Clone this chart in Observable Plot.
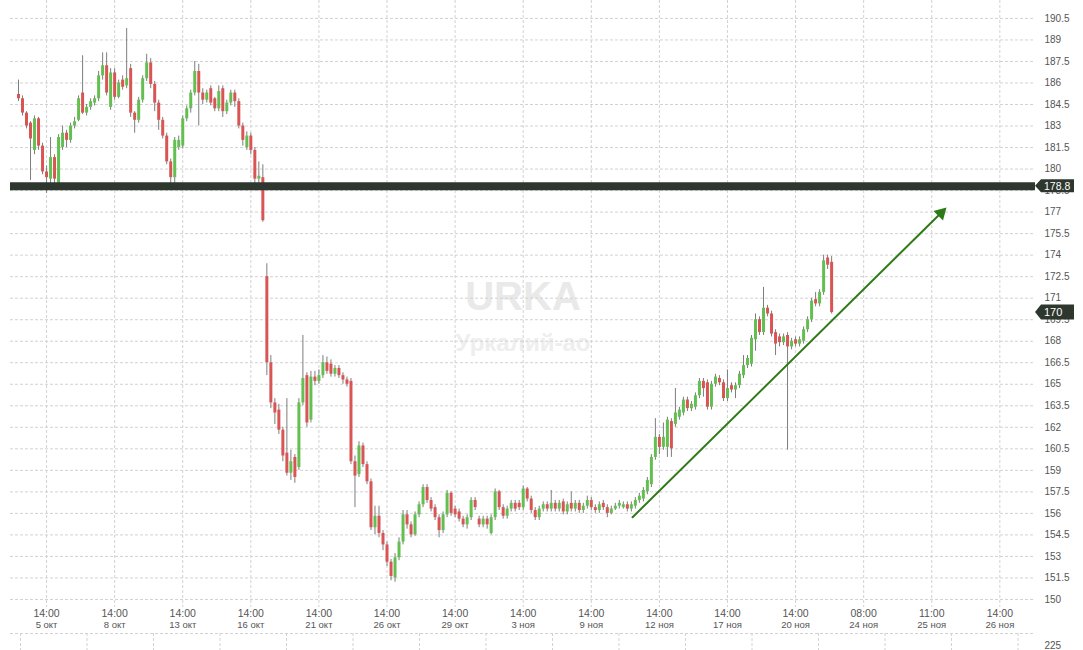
<!DOCTYPE html>
<html>
<head>
<meta charset="utf-8">
<script src="https://cdn.jsdelivr.net/npm/d3@7"></script>
<script src="https://cdn.jsdelivr.net/npm/@observablehq/plot@0.6"></script>
<style>
  html, body { margin: 0; padding: 0; background: #fff; }
  #wrap { position: relative; width: 1083px; height: 650px; overflow: hidden; }
</style>
</head>
<body>
<div id="wrap"></div>
<script>
// ---- Data (hourly-ish candles) ----
const opens = [
  185.2,184.9,183.9,183.2,181.3,183.5,181.6,179.8,179.3,180.8,
  179.0,181.5,182.5,182.0,183.0,183.4,185.3,183.9,184.3,184.6,
  184.9,186.5,187.2,184.3,186.7,185.0,186.2,185.8,187.0,183.9,
  183.4,184.8,186.3,187.4,185.9,184.6,183.4,182.3,180.5,179.4,
  181.5,181.6,183.5,184.2,185.3,186.8,185.3,184.8,185.6,184.9,
  184.2,185.6,184.0,184.6,185.3,184.7,183.0,181.5,182.3,181.3,
  179.3,179.4,172.5,166.5,163.7,163.2,161.8,160.2,158.8,159.9,
  159.2,163.7,165.6,162.5,165.5,165.2,165.6,166.5,166.4,165.7,
  166.1,165.6,165.3,165.2,159.6,158.7,160.7,159.4,158.2,155.0,
  155.8,154.6,153.8,152.6,151.5,152.9,154.0,155.9,155.2,154.5,
  155.9,156.6,157.8,156.9,156.4,155.7,154.8,155.9,157.4,156.3,
  156.1,155.6,155.2,155.7,156.9,155.6,155.2,155.6,154.6,155.7,
  157.5,156.4,155.8,156.3,156.7,156.7,156.4,157.7,157.0,156.2,
  155.7,156.3,156.6,156.3,156.7,156.3,156.8,156.1,156.7,156.3,
  156.7,156.2,156.5,156.9,156.4,156.2,156.7,156.4,156.0,156.3,
  156.5,156.4,156.6,156.3,156.5,156.9,157.0,157.5,158.0,159.9,
  161.3,160.6,160.6,162.4,162.2,162.7,163.0,163.9,163.3,163.4,
  164.2,165.2,165.1,163.4,165.0,165.4,165.1,164.0,164.9,164.6,
  164.9,165.6,166.3,166.4,168.1,169.5,168.6,170.3,169.9,168.6,
  168.3,167.9,168.4,167.6,168.1,167.8,168.0,168.8,169.5,170.9,
  170.6,171.4,173.8,173.5
];
const highs = [
  186.2,185.1,184.0,183.3,183.7,183.6,181.8,180.2,182.2,181.0,
  182.4,183.0,182.7,183.2,183.6,185.1,187.9,184.5,184.9,185.1,
  186.8,188.1,188.1,187.0,187.0,186.2,186.5,189.8,187.3,184.0,
  185.0,186.5,188.0,187.7,186.1,184.8,183.6,182.5,180.7,182.2,
  182.3,183.7,184.4,185.5,187.5,187.3,185.6,185.5,185.8,185.0,
  185.8,185.8,184.8,185.5,185.5,184.9,183.2,182.6,182.5,181.5,
  180.5,180.3,173.4,167.0,164.0,163.6,162.0,164.0,160.4,160.1,
  164.0,168.4,165.8,165.9,165.9,166.0,167.0,166.9,166.7,166.3,
  166.3,165.8,165.5,165.4,160.0,161.0,160.9,159.6,158.4,156.5,
  156.5,154.8,154.0,152.8,153.2,154.3,156.2,156.2,155.4,156.1,
  156.8,158.0,158.0,157.1,156.6,155.9,156.1,157.6,157.5,156.5,
  156.3,155.8,155.9,157.1,157.1,155.8,155.8,155.8,155.9,157.7,
  157.6,156.6,156.5,156.9,156.9,156.9,157.9,157.8,157.2,156.4,
  156.5,156.8,156.8,157.6,156.9,156.9,157.0,156.8,157.5,156.9,
  156.9,156.7,157.2,157.1,156.6,156.8,156.9,156.6,156.5,156.7,
  156.9,156.8,156.8,156.8,157.1,157.4,157.8,158.5,160.1,162.6,
  161.5,162.3,162.7,162.6,164.7,163.4,164.1,164.1,163.8,164.4,
  165.4,165.4,165.3,165.2,165.7,165.6,165.3,166.0,165.1,165.1,
  165.9,167.0,167.0,168.4,169.9,169.7,171.75,170.5,170.1,168.8,
  168.5,168.5,168.6,168.2,168.3,168.3,169.0,169.7,171.0,171.4,
  171.6,174.0,174.0,173.9
];
const lows = [
  184.7,183.7,182.8,179.2,181.0,181.3,179.6,178.3,178.6,178.8,
  178.9,181.3,181.5,181.8,182.8,183.3,183.8,183.7,184.1,184.4,
  184.7,186.2,185.1,184.1,184.8,184.9,185.5,185.6,183.6,182.5,
  183.2,184.6,186.1,185.6,184.0,182.7,182.1,180.3,178.9,179.0,
  181.3,181.4,183.3,183.9,185.1,183.0,184.5,184.6,184.4,184.0,
  184.0,183.6,183.8,184.4,184.3,182.8,181.6,181.3,181.0,178.7,
  178.6,176.3,165.6,163.3,162.2,161.5,159.6,158.6,158.3,158.1,
  159.0,163.5,162.0,162.3,164.9,165.0,165.4,165.7,165.5,165.5,
  165.4,165.0,164.8,159.4,156.4,158.5,159.2,158.0,154.8,154.5,
  154.3,153.4,152.3,151.3,151.2,152.7,153.8,154.9,154.3,154.4,
  155.7,156.4,156.7,156.1,155.5,154.3,154.6,155.7,155.8,155.7,
  155.4,155.0,154.9,155.5,156.2,155.0,155.0,154.9,154.5,155.5,
  156.2,155.6,155.6,156.1,156.1,156.2,156.2,156.8,156.0,155.5,
  155.5,156.1,156.1,156.1,156.1,156.1,155.9,155.9,156.1,156.1,
  156.0,156.0,156.3,156.2,156.0,156.0,156.2,155.7,155.9,156.2,
  156.3,156.3,156.1,156.1,156.3,156.7,156.8,157.3,157.8,159.7,
  160.1,160.4,159.9,159.9,162.0,162.5,162.8,163.1,163.1,163.2,
  164.0,164.1,163.2,163.2,164.8,164.9,163.8,163.8,164.4,164.0,
  164.7,165.4,166.1,166.2,167.3,168.4,168.4,169.7,168.3,167.0,
  167.6,167.7,160.4,167.4,167.6,167.6,167.8,168.6,169.3,170.4,
  170.4,171.2,173.0,169.9
];
const closes = [
  184.9,183.9,183.0,182.1,183.5,181.6,179.8,179.4,180.8,179.3,
  182.2,182.5,182.0,183.0,183.3,184.9,183.9,184.3,184.7,184.9,
  186.5,187.2,185.3,186.7,185.0,186.0,185.7,186.3,183.9,183.4,
  184.8,186.3,187.4,185.9,184.6,183.4,182.3,180.5,179.4,182.0,
  182.0,183.5,184.2,185.3,186.8,185.3,184.8,185.3,184.6,184.2,
  185.4,184.0,184.6,185.3,184.7,183.0,182.0,182.3,181.3,179.3,
  179.5,176.4,166.5,163.7,163.0,161.8,160.0,158.8,159.6,158.5,
  163.7,165.4,162.3,165.5,165.2,165.6,166.5,165.9,165.7,166.1,
  165.6,165.3,165.0,159.6,158.6,160.7,159.4,158.2,155.0,155.8,
  154.6,153.8,152.6,151.6,152.9,154.0,155.9,155.2,154.5,155.9,
  156.6,157.8,156.9,156.3,155.7,154.8,155.9,157.4,156.0,155.9,
  155.6,155.2,155.7,156.9,156.4,155.2,155.6,155.2,155.7,157.5,
  156.4,155.8,156.3,156.7,156.3,156.4,157.7,157.0,156.2,155.7,
  156.3,156.6,156.3,156.7,156.3,156.7,156.1,156.6,156.3,156.7,
  156.2,156.5,156.9,156.4,156.2,156.6,156.4,156.0,156.3,156.5,
  156.7,156.6,156.3,156.6,156.9,157.2,157.6,158.3,159.9,161.3,
  160.6,161.3,162.5,160.5,163.0,163.2,163.9,163.3,163.6,164.2,
  165.2,164.7,163.4,165.0,165.5,165.1,164.0,164.7,164.6,164.9,
  165.7,166.3,166.8,168.2,169.5,168.6,170.3,169.9,168.5,167.8,
  167.9,168.3,167.6,168.0,167.8,168.1,168.8,169.5,170.8,170.6,
  171.4,173.6,173.3,170.0
];

// x-axis ticks (bar index -> label)
const tickIndex = [7, 24, 41, 58, 75, 92, 109, 126, 143, 160, 177, 194, 211, 228, 245];
const tickTimes = ["14:00","14:00","14:00","14:00","14:00","14:00","14:00","14:00","14:00","14:00","14:00","14:00","08:00","11:00","14:00"];
const tickDates = ["5 окт","8 окт","13 окт","16 окт","21 окт","26 окт","29 окт","3 ноя","9 ноя","12 ноя","17 ноя","20 ноя","24 ноя","25 ноя","26 ноя"];

// y-axis ticks
const yTicks = [150,151.5,153,154.5,156,157.5,159,160.5,162,163.5,165,166.5,168,169.5,171,172.5,174,175.5,177,178.5,180,181.5,183,184.5,186,187.5,189,190.5];

// annotations
const supportLevel = 178.8;
const lastPrice = 170;
const trendLine = [ {i: 153.3, p: 155.73}, {i: 230.3, p: 176.94} ];
const ticker = "URKA";
const companyName = "Уркалий-ао";

// navigator strip
const navTicks = [10,76.5,143,209.5,276,342.5,409,475.5,542,608.5,675,741.5,808,874.5,941,1007.5];
const navLabel = "225";

// ---- Build ----
const candles = opens.map((o, i) => ({ i, o, h: highs[i], l: lows[i], c: closes[i] }));
const ups = candles.filter(d => d.c >= d.o);
const downs = candles.filter(d => d.c < d.o);
const ticks = tickIndex.map((x, k) => ({ x, time: tickTimes[k], date: tickDates[k] }));

const GRID = "#d2d2d2", DASH = "3,2";
const RED = "#d95454", GREEN = "#62bf50", WICK = "#7d7d7d";
const DARK = "#2e372e", TREND = "#2f7a16", TXT = "#555";
const FONT = "'Liberation Sans', Arial, sans-serif";

const plot = Plot.plot({
  width: 1083,
  height: 650,
  marginLeft: 10,
  marginRight: 48,
  marginTop: 0,
  marginBottom: 43,
  x: { domain: [-2, 253.9], axis: null },
  y: { domain: [149.44, 191.75], axis: null },
  style: { background: "transparent", fontFamily: FONT, overflow: "visible" },
  marks: [
    // watermark
    Plot.text([ticker], { text: d => d, frameAnchor: "top", dy: 281, fontSize: 40, fontWeight: "bold", fill: "#e9e9e9" }),
    Plot.text([companyName], { text: d => d, frameAnchor: "top", dy: 333, fontSize: 24, fontWeight: "bold", fill: "#eeeeee" }),
    // grid
    Plot.ruleY(yTicks, { stroke: GRID, strokeDasharray: DASH }),
    Plot.ruleX(tickIndex, { stroke: GRID, strokeDasharray: DASH }),
    // candles
    Plot.ruleX(candles, { x: "i", y1: "l", y2: "h", stroke: WICK, strokeWidth: 1 }),
    Plot.ruleX(ups, { x: "i", y1: "o", y2: "c", stroke: GREEN, strokeWidth: 3 }),
    Plot.ruleX(downs, { x: "i", y1: "o", y2: "c", stroke: RED, strokeWidth: 3 }),
    // support level
    Plot.ruleY([supportLevel], { stroke: DARK, strokeWidth: 8 }),
    // trend line with arrow head
    Plot.line(trendLine, { x: "i", y: "p", stroke: TREND, strokeWidth: 2 }),
    Plot.dot([trendLine[1]], { x: "i", y: "p", symbol: "triangle", r: 5, fill: TREND, stroke: "none", rotate: 45 }),
    // y labels
    Plot.text(yTicks, { y: d => d, text: d => String(d), frameAnchor: "right", dx: 9, textAnchor: "start", fontSize: 10, fill: TXT }),
    // x labels
    Plot.text(ticks, { x: "x", text: "time", frameAnchor: "bottom", dy: 9, fontSize: 10.5, fill: TXT }),
    Plot.text(ticks, { x: "x", text: "date", frameAnchor: "bottom", dy: 20, fontSize: 9.5, fill: TXT })
  ]
});

// price tags on the right axis
const yS = plot.scale("y");
const tagLayer = d3.select(plot).append("g").attr("font-family", FONT).attr("text-anchor", "start");
function priceTag(v, label, h, fs) {
  const y = yS.apply(v);
  const x0 = 1035;
  tagLayer.append("path")
    .attr("d", `M${x0},${y} L${x0 + 6},${y - h / 2} H${x0 + 39} V${y + h / 2} H${x0 + 6} Z`)
    .attr("fill", DARK);
  tagLayer.append("text")
    .attr("x", x0 + 9).attr("y", y).attr("dy", "0.36em")
    .attr("text-anchor", "start")
    .attr("fill", "#fff").attr("font-size", fs)
    .text(label);
}
priceTag(supportLevel, String(supportLevel), 13, 10.5);
priceTag(lastPrice, String(lastPrice), 15, 11);

const nav = Plot.plot({
  width: 1083,
  height: 28,
  marginLeft: 10,
  marginRight: 48,
  marginTop: 11,
  marginBottom: 0,
  x: { domain: [0, 1025], axis: null },
  y: { domain: [0, 1], axis: null },
  style: { background: "transparent", fontFamily: FONT, overflow: "visible" },
  marks: [
    Plot.ruleY([1], { stroke: GRID, strokeDasharray: DASH }),
    Plot.ruleX(navTicks, { stroke: GRID, strokeDasharray: DASH }),
    Plot.text([navLabel], { text: d => d, frameAnchor: "top-right", dx: 9, dy: 8, textAnchor: "start", fontSize: 10, fill: TXT })
  ]
});
nav.style.position = "absolute";
nav.style.left = "0px";
nav.style.top = "622px";

const wrap = document.getElementById("wrap");
wrap.appendChild(plot);
wrap.appendChild(nav);
</script>
</body>
</html>
